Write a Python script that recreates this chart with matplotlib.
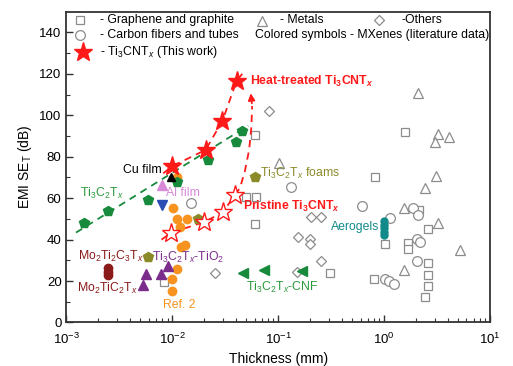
import numpy as np
import matplotlib.pyplot as plt

plt.rcParams['font.family'] = ['Liberation Sans', 'DejaVu Sans']
plt.rcParams['mathtext.fontset'] = 'custom'
plt.rcParams['mathtext.rm'] = 'Liberation Sans'
plt.rcParams['mathtext.it'] = 'Liberation Sans:italic'
plt.rcParams['mathtext.bf'] = 'Liberation Sans:bold'
plt.rcParams['mathtext.sf'] = 'Liberation Sans:bold:italic'

# Ti3CNTx (this work)
heat_x = [0.010, 0.0206, 0.0297, 0.0404]
heat_y = [75.5, 83.3, 97.3, 116.6]
heat_line_x = [0.0082, 0.010, 0.0206, 0.0297, 0.0404, 0.0483]
heat_line_y = [72, 75.5, 83.3, 97.3, 116.6, 121.6]
prist_x = [0.0098, 0.0198, 0.0301, 0.0389]
prist_y = [43.4, 48.4, 53.2, 61.6]
prist_line_x = [0.0079, 0.0098, 0.0198, 0.0301, 0.0389]
prist_line_y = [40, 43.4, 48.4, 53.2, 61.6]
arrow_x = [0.0389, 0.0434, 0.0483, 0.0531, 0.0558, 0.0567]
arrow_y = [61.6, 64.8, 72.8, 83.3, 94.5, 104.5]

# MXenes literature
ti3c2_x = [0.00146, 0.00248, 0.0059, 0.011, 0.0215, 0.040, 0.045]
ti3c2_y = [48.2, 53.8, 59.1, 68, 78.5, 87.3, 92.5]
ti3c2_line_x = [0.00123, 0.052]
ti3c2_line_y = [43.4, 95]
foam_x = [0.060, 0.0175, 0.0059]
foam_y = [70.4, 50, 31.8]
ref2_x = [0.011, 0.0102, 0.011, 0.0139, 0.0118, 0.012, 0.0131, 0.011, 0.010, 0.010]
ref2_y = [70.4, 55.5, 50, 50, 46, 36.3, 37.3, 26, 21.1, 15]
mo_x = [0.00248, 0.00248, 0.00248]
mo_y = [26.5, 24.5, 22.8]
tio2_x = [0.00524, 0.00562, 0.00775, 0.0091]
tio2_y = [18.1, 23.3, 23.3, 27.3]
cnf_x = [0.0466, 0.073, 0.169]
cnf_y = [24, 25.3, 24.9]
aero_x = [1.0, 1.0, 1.0, 1.0, 1.0]
aero_y = [49, 47.2, 45.4, 43.6, 42]
cu_x, cu_y = [0.0098], [70]
al_x, al_y = [0.0080], [66.4]
blue_x, blue_y = [0.0080], [56.7]

# Conventional materials
graph_x = [0.060, 0.050, 0.0616, 0.061, 0.306, 1.56, 0.826, 2.13, 2.59, 1.03,
           1.68, 1.68, 2.6, 0.81, 2.6, 2.6, 2.41, 0.0083]
graph_y = [90.5, 60.4, 60.4, 47.6, 24, 92.1, 70.1, 54.3, 45, 37.9,
           38.2, 35.3, 28.9, 20.9, 22.9, 17.6, 12.5, 19.7]
carbon_x = [0.133, 0.62, 0.015, 1.14, 1.87, 2.08, 2.04, 2.2, 2.05, 1.03, 1.12, 1.23]
carbon_y = [65.6, 56, 57.5, 50.3, 55.1, 51.9, 40.2, 39, 29.8, 20.9, 20.2, 18.6]
metal_x = [2.08, 3.22, 3.0, 4.08, 3.1, 2.41, 1.54, 3.2, 5.24, 1.54, 0.102]
metal_y = [111, 91, 87.3, 89.4, 70.7, 64.8, 55.1, 48.2, 35, 25.3, 76.9]
other_x = [0.081, 0.203, 0.252, 0.154, 0.198, 0.198, 0.255, 0.149, 0.0252]
other_y = [102, 51, 51, 41.4, 40.2, 37.8, 29.8, 24.5, 23.8]

red = '#ff1a1a'
green = '#178a3c'
gray = '#8c8c8c'

fig = plt.figure(figsize=(5.13, 3.66), dpi=100)
ax = fig.add_axes([0.1296, 0.1189, 0.8255, 0.8489])

gkw = dict(ls='none', mfc='white', mec=gray, mew=0.9)
ax.plot(graph_x, graph_y, 's', ms=6, **gkw)
ax.plot(carbon_x, carbon_y, 'o', ms=7, **gkw)
ax.plot(metal_x, metal_y, '^', ms=7.5, **gkw)
ax.plot(other_x, other_y, 'D', ms=5.5, **gkw)

ax.plot(ti3c2_line_x, ti3c2_line_y, '--', color=green, lw=1.3, dashes=(4, 3))
ax.plot(heat_line_x, heat_line_y, '--', color=red, lw=1.3, dashes=(4, 3))
ax.plot(prist_line_x, prist_line_y, '--', color=red, lw=1.3, dashes=(4, 3))
ax.plot(arrow_x, arrow_y, '--', color=red, lw=1.3, dashes=(4, 3))
ax.annotate('', xy=(0.0547, 112), xytext=(arrow_x[-1], arrow_y[-1]),
            arrowprops=dict(arrowstyle='-|>', color=red, lw=1.3, mutation_scale=10))

ax.plot(ref2_x, ref2_y, 'o', ls='none', ms=6, color='#f7931e', mec='#f7931e')
ax.plot(mo_x, mo_y, 'o', ls='none', ms=6, color='#8b1a1a')
ax.plot(tio2_x, tio2_y, '^', ls='none', ms=7, color='#7b2d8b')
ax.plot(cnf_x, cnf_y, '<', ls='none', ms=7, color=green)
ax.plot(aero_x, aero_y, 'o', ls='none', ms=5, color='#128a8a')
ax.plot(foam_x, foam_y, 'p', ls='none', ms=7, color='#8a8a28')
ax.plot(ti3c2_x, ti3c2_y, 'p', ls='none', ms=7, color=green)
ax.plot(cu_x, cu_y, '^', ls='none', ms=6, color='black')
ax.plot(al_x, al_y, '^', ls='none', ms=7, color='#d88ad8')
ax.plot(blue_x, blue_y, 'v', ls='none', ms=7, color='#2a4db5')

ax.plot(heat_x, heat_y, '*', ls='none', ms=14, color=red)
ax.plot(prist_x, prist_y, '*', ls='none', ms=14, mfc='white', mec=red, mew=1.0)

fs = 8.8
ax.text(0.0538, 116.6, r'Heat-treated Ti$_\mathbf{3}$CNT$_\mathsf{x}$', color=red,
        fontsize=fs, fontweight='bold', va='center')
ax.text(0.046, 55.8, r'Pristine Ti$_\mathbf{3}$CNT$_\mathsf{x}$', color=red,
        fontsize=fs, fontweight='bold', va='center')
ax.text(0.0034, 73.4, 'Cu film', color='black', fontsize=fs, va='center')
ax.text(0.00134, 62.5, r'Ti$_3$C$_2$T$_x$', color='#2a9a3a', fontsize=fs, va='center')
ax.text(0.0087, 62.5, 'Al film', color='#d88ad8', fontsize=fs, va='center')
ax.text(0.0668, 72, r'Ti$_3$C$_2$T$_x$ foams', color='#8a8a28', fontsize=fs, va='center')
ax.text(0.00129, 31.8, r'Mo$_2$Ti$_2$C$_3$T$_x$', color='#8b1a1a', fontsize=fs, va='center')
ax.text(0.0064, 31.5, r'Ti$_3$C$_2$T$_x$-TiO$_2$', color='#7b2d8b', fontsize=fs, va='center')
ax.text(0.00126, 16.6, r'Mo$_2$TiC$_2$T$_x$', color='#8b1a1a', fontsize=fs, va='center')
ax.text(0.0081, 8.4, 'Ref. 2', color='#f7931e', fontsize=fs, va='center')
ax.text(0.050, 17, r'Ti$_3$C$_2$T$_x$-CNF', color='#2a9a3a', fontsize=fs, va='center')
ax.text(0.318, 46, 'Aerogels', color='#128a8a', fontsize=fs, va='center')

# legend drawn by hand
tr = ax.transAxes
lk = dict(transform=tr, ls='none', clip_on=False)
ax.plot([0.032], [0.974], 's', ms=6, mfc='white', mec=gray, mew=0.9, **lk)
ax.plot([0.032], [0.925], 'o', ms=7, mfc='white', mec=gray, mew=0.9, **lk)
ax.plot([0.039], [0.871], '*', ms=14, color=red, **lk)
ax.plot([0.462], [0.970], '^', ms=7.5, mfc='white', mec=gray, mew=0.9, **lk)
ax.plot([0.738], [0.974], 'D', ms=5.5, mfc='white', mec=gray, mew=0.9, **lk)
ax.text(0.079, 0.974, '- Graphene and graphite', transform=tr, fontsize=fs, va='center')
ax.text(0.079, 0.925, '- Carbon fibers and tubes', transform=tr, fontsize=fs, va='center')
ax.text(0.079, 0.871, r'- Ti$_3$CNT$_x$ (This work)', transform=tr, fontsize=fs, va='center')
ax.text(0.504, 0.974, '- Metals', transform=tr, fontsize=fs, va='center')
ax.text(0.792, 0.974, '-Others', transform=tr, fontsize=fs, va='center')
ax.text(0.445, 0.925, 'Colored symbols - MXenes (literature data)', transform=tr,
        fontsize=fs, va='center')

ax.set_xscale('log')
ax.set_xlim(1e-3, 10)
ax.set_ylim(0, 150)
ax.set_yticks(np.arange(0, 141, 20))
ax.set_yticks(np.arange(0, 150, 10), minor=True)
ax.tick_params(which='both', direction='in', top=False, right=False, labelsize=9.5,
               color='#333333')
ax.tick_params(which='major', length=5, width=1)
ax.tick_params(which='minor', length=3, width=0.8)
ax.tick_params(axis='x', which='major', pad=7)
for s in ax.spines.values():
    s.set_linewidth(1.3)
    s.set_color('#333333')

ax.set_xlabel('Thickness (mm)', fontsize=10, labelpad=3)
ax.set_ylabel(r'EMI SE$_\mathrm{T}$ (dB)', fontsize=10, labelpad=4)

fig.savefig('out.png', dpi=100)
